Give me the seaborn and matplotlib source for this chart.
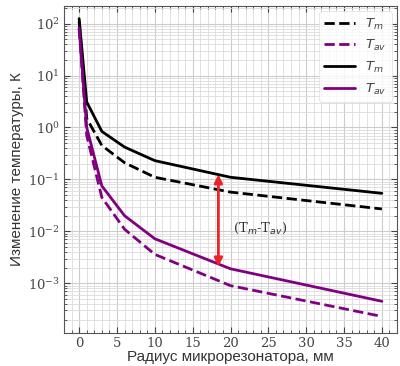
import numpy as np
import pandas as pd
import seaborn as sns
import matplotlib.pyplot as plt
from matplotlib.ticker import MultipleLocator, LogLocator, NullFormatter

radius = [0, 1, 3, 6, 10, 20, 40]
tm_dashed = [110, 1.5, 0.45, 0.21, 0.11, 0.057, 0.027]
tav_dashed = [80, 0.7, 0.045, 0.011, 0.0036, 0.0009, 0.00023]
tm_solid = [125, 3.1, 0.84, 0.42, 0.23, 0.11, 0.054]
tav_solid = [83, 1.0, 0.075, 0.020, 0.0072, 0.0019, 0.00045]
y_ticks = [1e-3, 1e-2, 1e-1, 1, 10, 100]

arrow_x = 18.4
arrow_top = 0.125
arrow_bottom = 0.0021

sns.set_style('ticks')
# serif digits for tick labels, italic sans for T_m / T_av
plt.rcParams['mathtext.fontset'] = 'custom'
plt.rcParams['mathtext.rm'] = 'DejaVu Serif'
plt.rcParams['mathtext.it'] = 'DejaVu Sans:italic'
plt.rcParams['mathtext.bf'] = 'DejaVu Serif:bold'

fig = plt.figure(figsize=(4.0, 3.66), dpi=100)
ax = fig.add_axes([0.16, 0.09, 0.8325, 0.894])

series = [
    (tm_dashed, 'black', '--', r'$T_m$'),
    (tav_dashed, 'purple', '--', r'$T_{av}$'),
    (tm_solid, 'black', '-', r'$T_m$'),
    (tav_solid, 'purple', '-', r'$T_{av}$'),
]
for vals, col, ls, lab in series:
    df = pd.DataFrame({'r': radius, 't': vals})
    sns.lineplot(data=df, x='r', y='t', color=col, linestyle=ls, linewidth=2,
                 label=lab, ax=ax)

ax.set_yscale('log')
ax.set_xlim(-2, 42)
ax.set_ylim(1.1e-4, 220)
ax.xaxis.set_major_locator(MultipleLocator(5))
ax.xaxis.set_minor_locator(MultipleLocator(1))
ax.set_yticks(y_ticks)
ax.yaxis.set_minor_locator(LogLocator(base=10, subs=np.arange(2, 10), numticks=20))
ax.yaxis.set_minor_formatter(NullFormatter())

ax.grid(which='major', color='#cccccc', linewidth=0.8)
ax.grid(which='minor', color='#dcdcdc', linewidth=0.6)
ax.set_axisbelow(True)

ax.tick_params(which='both', direction='in', top=True, right=True,
               colors='#444444', labelcolor='#444444')
ax.tick_params(which='major', length=4, labelsize=9.5, pad=3)
ax.tick_params(which='minor', length=2)
for lbl in ax.get_xticklabels() + ax.get_yticklabels():
    lbl.set_family('DejaVu Serif')
for s in ax.spines.values():
    s.set_color('#555555')

ax.set_xlabel('Радиус микрорезонатора, мм', fontsize=11, family='Liberation Sans',
              color='#333333', labelpad=0)
ax.set_ylabel('Изменение температуры, К', fontsize=11, family='Liberation Sans',
              color='#333333', labelpad=3)

ax.annotate('', xy=(arrow_x, arrow_top), xytext=(arrow_x, arrow_bottom),
            arrowprops=dict(arrowstyle='<|-|>', color='#e8262a', lw=2,
                            mutation_scale=12, shrinkA=0, shrinkB=0))
ax.text(24.0, 0.0115, r'(T$_{m}$-T$_{av}$)', fontsize=9.5,
        family='DejaVu Serif', color='#333333', ha='center', va='center')

leg = ax.legend(loc='upper right', fontsize=9.5, handlelength=2.3,
                labelspacing=0.5, frameon=True, borderaxespad=0.4)
leg.get_frame().set_edgecolor('#dddddd')
leg.get_frame().set_linewidth(0.6)
for t in leg.get_texts():
    t.set_color('#444444')

fig.savefig('out.png', dpi=100)
